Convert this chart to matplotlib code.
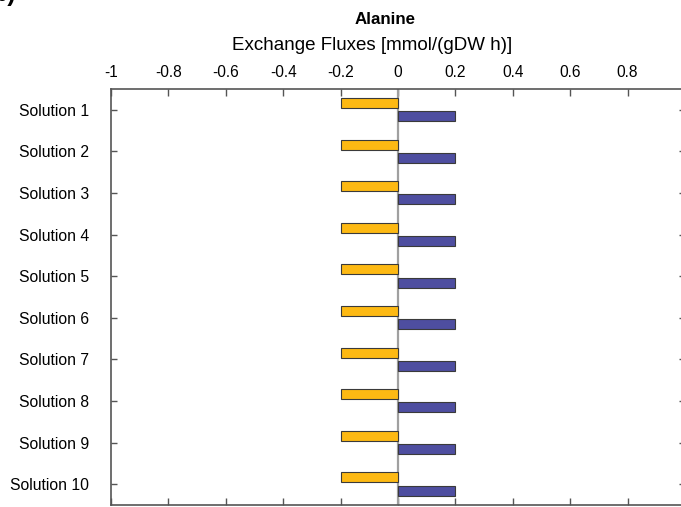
import matplotlib.pyplot as plt
import numpy as np

plt.rcParams['font.family'] = ['Liberation Sans', 'DejaVu Sans']

# Exchange fluxes for alanine, one pair of bars per solution
solutions = ["Solution %d" % i for i in range(1, 11)]
uptake = [-0.2, -0.2, -0.2, -0.2, -0.2, -0.2, -0.2, -0.2, -0.2, -0.2]
secretion = [0.2, 0.2, 0.2, 0.2, 0.2, 0.2, 0.2, 0.2, 0.2, 0.2]
xticks = [-1, -0.8, -0.6, -0.4, -0.2, 0, 0.2, 0.4, 0.6, 0.8]

fig = plt.figure(figsize=(6.81, 5.07), dpi=100)
ax = fig.add_axes([111 / 681, 2 / 507, 574 / 681, 416 / 507])

y = np.arange(1, len(solutions) + 1)
h = 0.24
ax.barh(y - 0.165, uptake, height=h, color='#FDB913', edgecolor='#3a3a3a', linewidth=0.8, zorder=3)
ax.barh(y + 0.155, secretion, height=h, color='#4E4EA0', edgecolor='#3a3a3a', linewidth=0.8, zorder=3)
ax.axvline(0, color='#a0a0a0', linewidth=1.6, zorder=2)

ax.set_xlim(-1, 1)
ax.set_ylim(10.5, 0.5)
ax.set_xticks(xticks)
ax.set_xticklabels([('%g' % t) for t in xticks], fontsize=11.2)
ax.set_yticks(y)
ax.set_yticklabels(solutions, fontsize=11.3)
ax.xaxis.tick_top()
ax.tick_params(axis='x', direction='in', length=5, width=1, color='#555555',
               top=True, bottom=True, pad=6.5)
ax.tick_params(axis='y', direction='in', length=4, width=1, color='#555555',
               left=True, right=True, pad=16)
for s in ax.spines.values():
    s.set_color('#555555')
    s.set_linewidth(1.2)

fig.text(372 / 681, 1 - 45 / 507, "Exchange Fluxes [mmol/(gDW h)]", fontsize=13.5,
         ha='center', va='center')
fig.text(385 / 681, 1 - 19 / 507, "Alanine", fontsize=12.2, fontweight='bold',
         ha='center', va='center')
# panel letter, mostly above the top edge
fig.text(-8 / 681, 1 - 1 / 507, "b)", fontsize=18, fontweight='bold',
         ha='left', va='baseline')

fig.savefig('out.png', dpi=100)
